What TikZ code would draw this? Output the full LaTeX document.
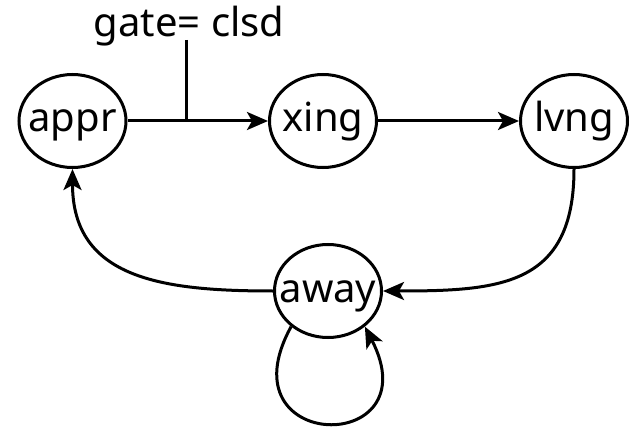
\documentclass[tikz,border=0pt]{standalone}
\usepackage{fontspec}
\setmainfont{Noto Sans}
\usetikzlibrary{arrows.meta,shapes.geometric}
\begin{document}
\begin{tikzpicture}[x=1pt,y=1pt,
  st/.style={ellipse, draw, line width=3pt, minimum width=107pt, minimum height=93pt,
    inner sep=0pt, text height=30pt, text depth=8pt, font=\fontsize{40}{48}\selectfont},
  tr/.style={line width=3pt, -{Stealth[length=21pt,width=18pt,inset=5pt]}},
  lbl/.style={font=\fontsize{40}{48}\selectfont, inner sep=0pt, anchor=base}]
\fill[white] (0,0) rectangle (631,426);
\useasboundingbox (0,0) rectangle (631,426);

\node[st] (appr) at (72.5,305) {\makebox[0pt]{appr}};
\node[st] (xing) at (323,305) {\makebox[0pt]{xing}};
\node[st] (lvng) at (574,305) {\makebox[0pt]{lvng}};
\node[st] (away) at (328,135) {\makebox[0pt]{away}};

\node[lbl] (gate) at (189,389) {gate= clsd};
\coordinate (gtop) at (186,386);
\coordinate (j) at (186,305);

\draw[tr] (appr.east) -- (xing.west);
\draw[line width=3pt] (gtop) -- (j);
\draw[tr] (xing.east) -- (lvng.west);
\draw[tr] (lvng.south) .. controls +(0,-117) and +(117,0) .. (away.east);
\draw[tr] (away.west) .. controls +(-110,0) and +(0,-110) .. (appr.south);
\draw[tr] (away.224) .. controls +(-70,-127) and +(67,-130) .. (away.316);
\end{tikzpicture}
\end{document}
